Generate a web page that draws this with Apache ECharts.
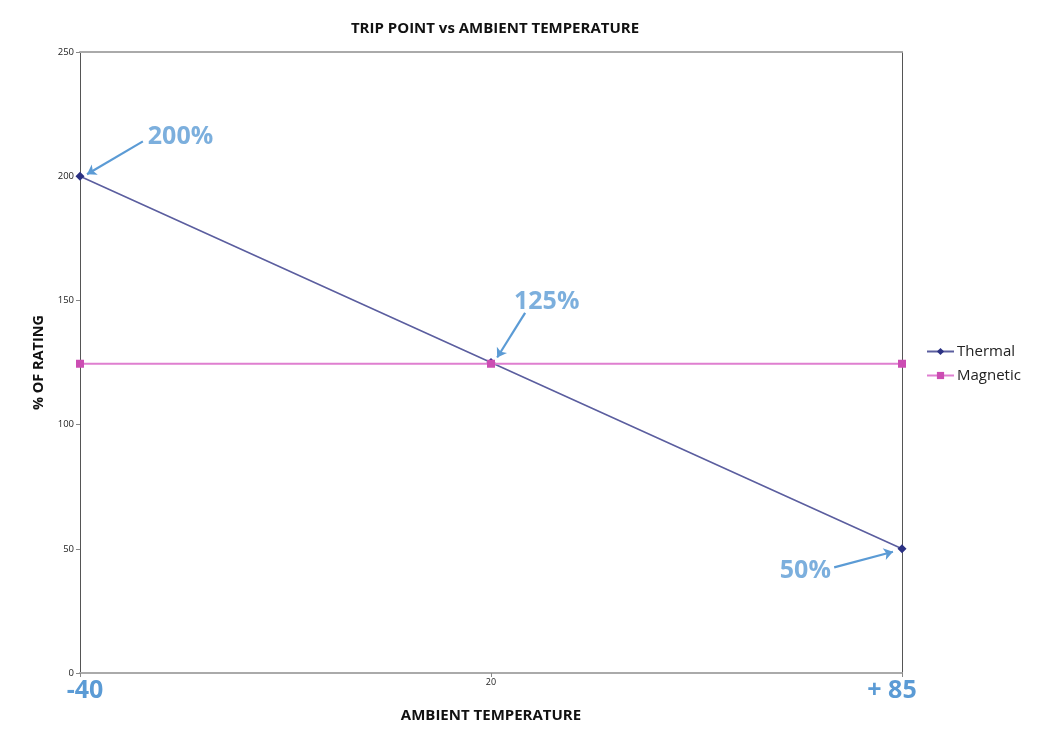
<!DOCTYPE html>
<html><head><meta charset="utf-8">
<script src="https://cdn.jsdelivr.net/npm/echarts@6/dist/echarts.min.js"></script>
<style>html,body{margin:0;padding:0;background:#fff}#c{width:1042px;height:736px}</style>
</head><body><div id="c"></div>
<script>
const categories = ['-40', '20', '+ 85'];
const yTicks = [0, 50, 100, 150, 200, 250];
const thermal = [200, 125, 50];
const magnetic = [124.5, 124.5, 124.5];
const annoLabels = ['200%', '125%', '50%'];
// annotation anchors in data space (x = category index, y = % of rating)
const annoTextAt = [[0.165, 215.8], [1.056, 149.6], [1.827, 41.0]];
const annoArrowFrom = [[0.153, 214.0], [1.083, 145.0], [1.835, 42.5]];
const annoArrowTo = [[0.017, 200.8], [1.015, 127.0], [1.978, 48.8]];

const FONT = '"Open Sans", sans-serif';
const BLUE = '#5b9bd5';
const chart = echarts.init(document.getElementById('c'));
chart.setOption({
  backgroundColor: '#fff',
  animation: false,
  title: {
    text: 'TRIP POINT vs AMBIENT TEMPERATURE', left: 490, textAlign: 'center', top: 16,
    textStyle: { fontFamily: FONT, fontSize: 15, fontWeight: 'bold', color: '#111' }
  },
  legend: {
    data: ['Thermal', 'Magnetic'], orient: 'vertical', left: 921, top: 339,
    itemWidth: 27, itemHeight: 9, itemGap: 9,
    textStyle: { fontFamily: FONT, fontSize: 15, color: '#222', padding: [0, 0, 0, -2] }
  },
  grid: { left: 80, right: 140, top: 52, bottom: 63 },
  xAxis: [{
    type: 'value', min: 0, max: categories.length - 1, interval: 1,
    splitLine: { show: false },
    axisLine: { show: true, onZero: false, lineStyle: { color: '#aaaaaa', width: 2 } },
    axisTick: { show: true, length: 4, lineStyle: { color: '#888' } },
    axisLabel: {
      margin: 5,
      formatter: v => (v === 1 ? '{s|' + categories[v] + '}' : (v === 0 ? '{l|' : '{r|') + categories[v] + '}'),
      rich: {
        s: { fontFamily: FONT, fontSize: 9, color: '#222', padding: [0, 0, 8, 0] },
        l: { fontFamily: FONT, fontSize: 25, fontWeight: 'bold', color: BLUE, padding: [0, 0, 0, 10] },
        r: { fontFamily: FONT, fontSize: 25, fontWeight: 'bold', color: BLUE, padding: [0, 20, 0, 0] }
      }
    },
    name: 'AMBIENT TEMPERATURE', nameLocation: 'middle', nameGap: 30,
    nameTextStyle: { fontFamily: FONT, fontSize: 15, fontWeight: 'bold', color: '#111' }
  }, {
    type: 'value', position: 'top', min: 0, max: 2,
    splitLine: { show: false }, axisTick: { show: false }, axisLabel: { show: false },
    axisLine: { show: true, onZero: false, lineStyle: { color: '#aaaaaa', width: 2 } }
  }],
  yAxis: [{
    type: 'value', min: 0, max: 250, interval: 50,
    splitLine: { show: false },
    axisLine: { show: true, onZero: false, lineStyle: { color: '#555', width: 1 } },
    axisTick: { show: true, length: 4, lineStyle: { color: '#888' } },
    axisLabel: { fontFamily: FONT, fontSize: 9.5, color: '#222', margin: 6 },
    name: '% OF RATING', nameLocation: 'middle', nameGap: 33, nameRotate: 90,
    nameTextStyle: { fontFamily: FONT, fontSize: 14.5, fontWeight: 'bold', color: '#111' }
  }, {
    type: 'value', position: 'right', min: 0, max: 250,
    splitLine: { show: false }, axisTick: { show: false }, axisLabel: { show: false },
    axisLine: { show: true, onZero: false, lineStyle: { color: '#555', width: 1 } }
  }],
  series: [{
    name: 'Thermal', type: 'line',
    data: thermal.map((v, i) => [i, v]),
    symbol: 'diamond', symbolSize: 9,
    itemStyle: { color: '#2b3183' },
    lineStyle: { color: '#5b5e9f', width: 1.6 },
    z: 3
  }, {
    name: 'Magnetic', type: 'line',
    data: magnetic.map((v, i) => [i, v]),
    symbol: 'rect', symbolSize: 8,
    itemStyle: { color: '#cc4db3' },
    lineStyle: { color: '#df7fd0', width: 1.8 },
    z: 4
  }, {
    name: 'arrows', type: 'lines', coordinateSystem: 'cartesian2d',
    data: annoArrowFrom.map((p, i) => ({ coords: [p, annoArrowTo[i]] })),
    symbol: ['none', 'arrow'], symbolSize: [1, 9],
    lineStyle: { color: BLUE, width: 2.2, opacity: 1 },
    z: 5, silent: true
  }, {
    name: 'labels', type: 'scatter',
    data: annoTextAt.map((p, i) => ({
      value: p,
      label: {
        show: true, position: [0, 0], formatter: annoLabels[i],
        align: i === 2 ? 'right' : 'left', verticalAlign: 'middle',
        fontFamily: FONT, fontSize: 25, fontWeight: 'bold', color: BLUE
      }
    })),
    symbolSize: 0, silent: true, z: 5
  }]
});
</script></body></html>
